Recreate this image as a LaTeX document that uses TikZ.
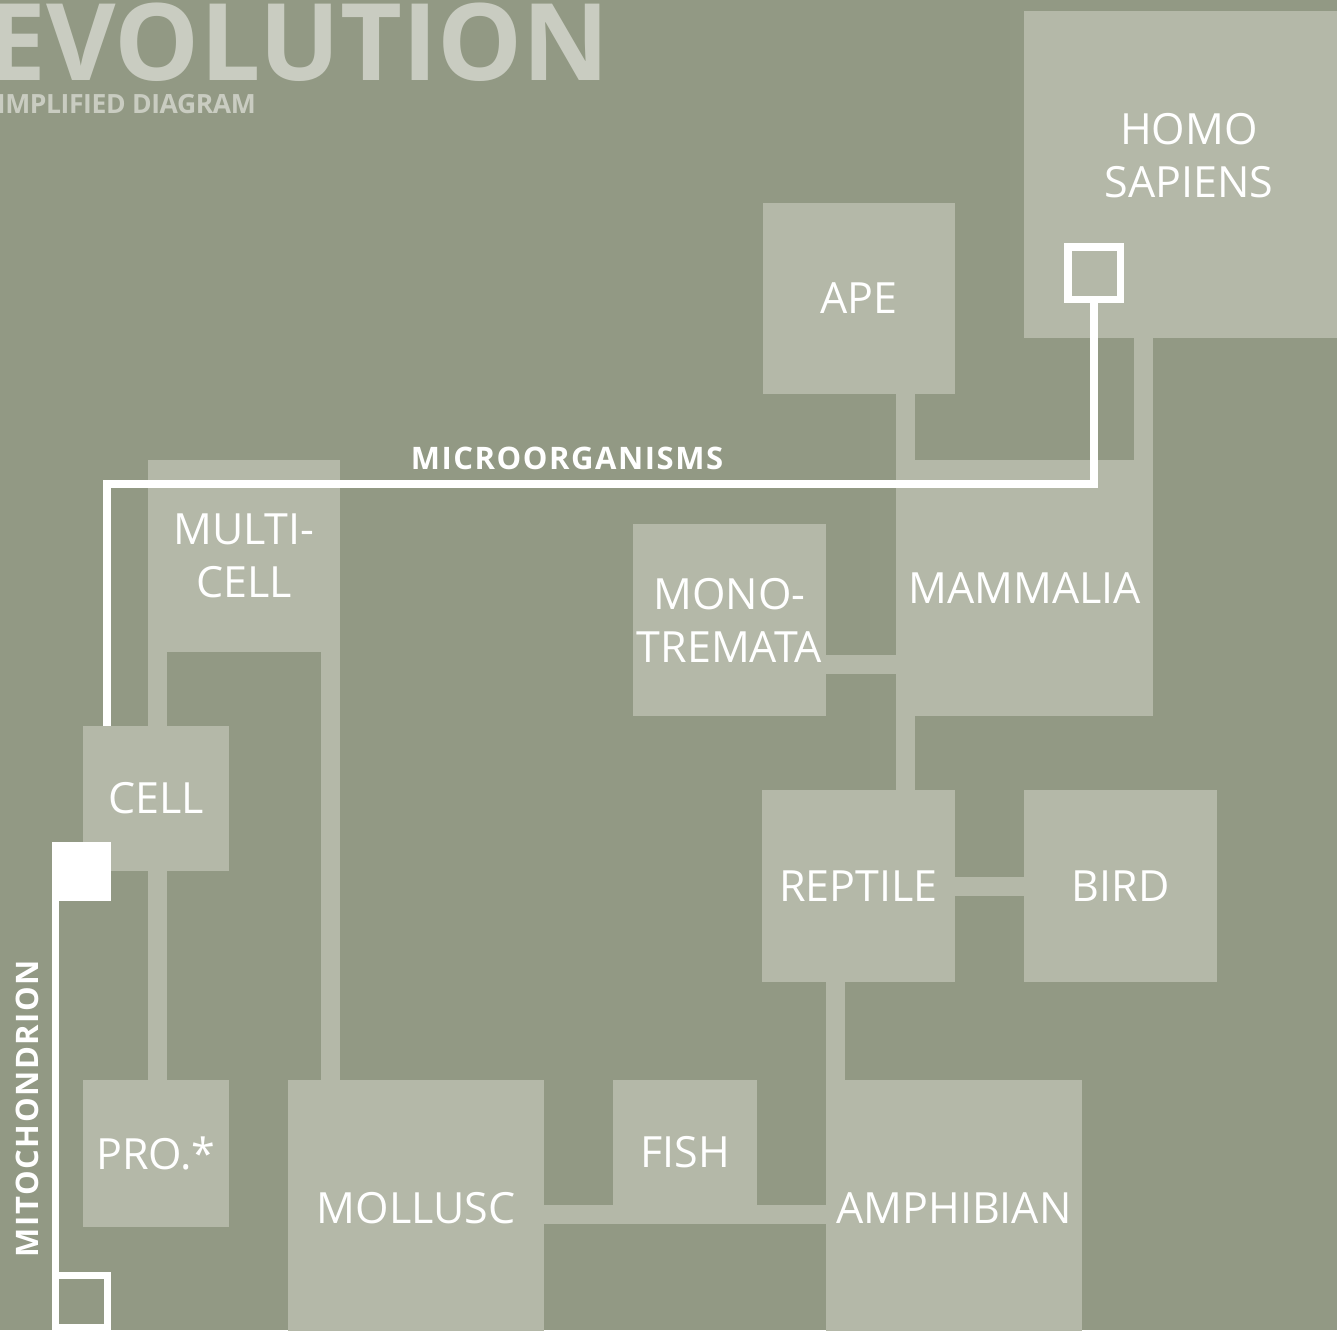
\documentclass[tikz,border=0pt]{standalone}
\usepackage{fontspec}
\setmainfont{Open Sans}
\definecolor{bgc}{HTML}{929984}
\definecolor{boxc}{HTML}{B4B8A8}
\definecolor{titc}{HTML}{C9CCC1}
\begin{document}
\begin{tikzpicture}[x=1pt,y=-1pt,
  box/.style={fill=boxc, inner sep=0pt, outer sep=0pt, text=white, align=center,
    font=\fontsize{43}{53}\selectfont, anchor=north west},
  bar/.style={draw=boxc, line width=19pt},
  wline/.style={draw=white, line width=7.5pt, line join=miter},
  mline/.style={draw=white, line width=7pt},
  lab/.style={text=white, inner sep=0pt, font=\bfseries\fontsize{31}{37}\selectfont\addfontfeature{LetterSpace=5}}]
\useasboundingbox (0,0) rectangle (1337,1330);
\clip (0,0) rectangle (1337,1330);
\fill[bgc] (0,0) rectangle (1337,1330);
% title
\node[anchor=base east, text=titc, inner sep=0pt, font=\bfseries\fontsize{107}{107}\selectfont] (title) at (610,81) {EVOLUTION};
\node[anchor=base east, text=titc, inner sep=0pt, font=\bfseries\fontsize{26.5}{27}\selectfont\addfontfeature{LetterSpace=-1.5}] (subtitle) at (256,113) {SIMPLIFIED DIAGRAM};
% boxes
\node[box, minimum width=330pt, minimum height=327pt] (homo) at (1024,11) {};
\node[text=white, align=center, inner sep=0pt, font=\fontsize{43}{53}\selectfont] (homotext) at ([yshift=19pt]homo.center) {HOMO\\SAPIENS};
\node[box, minimum width=192pt, minimum height=191pt] (ape) at (763,203) {APE};
\node[box, minimum width=192pt, minimum height=192pt] (multicell) at (148,460) {MULTI-\\CELL};
\node[box, minimum width=146pt, minimum height=145pt] (cell) at (83,726) {CELL};
\node[box, minimum width=146pt, minimum height=147pt] (pro) at (83,1080) {PRO.*};
\node[box, minimum width=256pt, minimum height=256pt] (mollusc) at (288,1080) {MOLLUSC};
\node[box, minimum width=144pt, minimum height=144pt] (fish) at (613,1080) {FISH};
\node[box, minimum width=256pt, minimum height=256pt] (amphibian) at (826,1080) {AMPHIBIAN};
\node[box, minimum width=193pt, minimum height=192pt] (reptile) at (762,790) {REPTILE};
\node[box, minimum width=193pt, minimum height=192pt] (bird) at (1024,790) {BIRD};
\node[box, minimum width=257pt, minimum height=256pt] (mammalia) at (896,460) {MAMMALIA};
\node[box, minimum width=193pt, minimum height=192pt] (mono) at (633,524) {MONO-\\TREMATA};
% connector bars
\draw[bar] ([xshift=-9.5pt]mammalia.north east) -- ([xshift=-9.5pt]mammalia.north east |- homo.south);
\draw[bar] ([xshift=9.5pt]mammalia.north west) -- ([xshift=9.5pt]mammalia.north west |- ape.south);
\draw[bar] ([yshift=51.5pt]mono.south east) -- ([yshift=51.5pt]mono.south east -| mammalia.west);
\draw[bar] ([xshift=9.5pt]mammalia.south west) -- ([xshift=9.5pt]mammalia.south west |- reptile.north);
\draw[bar] (reptile.east) -- (bird.west);
\draw[bar] ([xshift=9.5pt]amphibian.north west) -- ([xshift=9.5pt]amphibian.north west |- reptile.south);
\draw[bar] ([yshift=9.5pt]fish.south west -| mollusc.east) -- ([yshift=9.5pt]fish.south west);
\draw[bar] ([yshift=9.5pt]fish.south east) -- ([yshift=9.5pt]fish.south east -| amphibian.west);
\draw[bar] ([xshift=-9.5pt]multicell.south east) -- ([xshift=-9.5pt]multicell.south east |- mollusc.north);
\draw[bar] ([xshift=9.5pt]multicell.south west) -- ([xshift=9.5pt]multicell.south west |- cell.north);
\draw[bar] ([xshift=9.5pt]multicell.south west |- cell.south) -- ([xshift=9.5pt]multicell.south west |- pro.north);
% microorganisms line
\node[draw=white, line width=7.5pt, minimum size=52.5pt, inner sep=0pt, outer sep=0pt] (hsq) at (1094,273) {};
\coordinate (mcorner) at (107,484);
\draw[wline] (hsq.south) -- (hsq.south |- mcorner) -- (mcorner) -- (mcorner |- cell.north);
\node[lab] (micro) at (567,458) {MICROORGANISMS};
% mitochondrion line
\node[fill=white, draw=white, line width=7pt, minimum size=52pt, inner sep=0pt, outer sep=0pt] (msq) at (81.5,871.5) {};
\node[draw=white, line width=7pt, minimum size=52pt, inner sep=0pt, outer sep=0pt] (msq2) at (81.5,1301.5) {};
\draw[mline] (msq.south west) -- (msq2.north west);
\node[lab, rotate=90] (mito) at (27.5,1108.5) {MITOCHONDRION};
\end{tikzpicture}
\end{document}
